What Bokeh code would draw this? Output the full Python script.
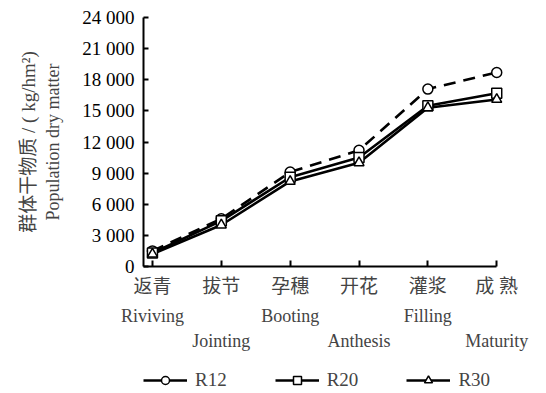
from bokeh.plotting import figure
from bokeh.models import (Range1d, FixedTicker, LinearAxis, Title, Legend, LegendItem,
                          ColumnDataSource)
from bokeh.layouts import column
from bokeh.embed import file_html
from bokeh.resources import INLINE

stages_cn = ["返青", "拔节", "孕穗", "开花", "灌浆", "成 熟"]
stages_en = ["Riviving", "Jointing", "Booting", "Anthesis", "Filling", "Maturity"]
r12 = [1500, 4600, 9100, 11200, 17100, 18700]
r20 = [1300, 4400, 8600, 10500, 15500, 16700]
r30 = [1200, 4000, 8200, 10000, 15300, 16100]
y_ticks = [0, 3000, 6000, 9000, 12000, 15000, 18000, 21000, 24000]
y_tick_labels = ["0", "3 000", "6 000", "9 000", "12 000", "15 000", "18 000", "21 000", "24 000"]
series_names = ["R12", "R20", "R30"]

SERIF = "Liberation Serif"
CJK = "Liberation Serif, Noto Sans CJK SC"

xs = list(range(len(stages_cn)))

p = figure(width=546, height=353, output_backend="svg", toolbar_location=None,
           x_range=Range1d(-0.13, 5.2), y_range=Range1d(0, 24000),
           min_border_left=143, min_border_right=36, min_border_top=17,
           min_border_bottom=0, x_axis_type=None)
p.outline_line_color = None
p.xgrid.visible = False
p.ygrid.visible = False
p.background_fill_color = "white"
p.border_fill_color = "white"

# y axis
ya = p.yaxis[0]
ya.ticker = FixedTicker(ticks=y_ticks)
ya.major_label_overrides = {t: l for t, l in zip(y_ticks, y_tick_labels)}
ya.major_label_text_font = SERIF
ya.major_label_text_font_size = "19px"
ya.major_label_text_color = "black"
ya.major_tick_in = 5
ya.major_tick_out = 0
ya.minor_tick_in = 0
ya.minor_tick_out = 0
ya.major_tick_line_width = 2
ya.axis_line_width = 2
ya.major_label_standoff = 9
ya.axis_label = "Population dry matter"
ya.axis_label_text_font = SERIF
ya.axis_label_text_font_style = "normal"
ya.axis_label_text_font_size = "18px"
ya.axis_label_standoff = 16

p.add_layout(Title(text="群体干物质 / ( kg/hm²)", align="center", text_font=CJK,
                   text_font_size="19px", text_font_style="normal", standoff=4), "left")

# x axes
ax_main = LinearAxis(ticker=FixedTicker(ticks=xs), bounds=(-0.13, 5.0),
                     major_label_overrides={i: s for i, s in zip(xs, stages_cn)})
ax_main.major_label_text_font = CJK
ax_main.major_label_text_font_size = "19px"
ax_main.major_tick_in = 6
ax_main.major_tick_out = 0
ax_main.minor_tick_in = 0
ax_main.minor_tick_out = 0
ax_main.major_tick_line_width = 2
ax_main.axis_line_width = 2
ax_main.major_label_standoff = 9
p.add_layout(ax_main, "below")

even = [i for i in xs if i % 2 == 0]
odd = [i for i in xs if i % 2 == 1]
for idx, so in ((even, 6), (odd, 2)):
    ax = LinearAxis(ticker=FixedTicker(ticks=idx),
                    major_label_overrides={i: stages_en[i] for i in idx})
    ax.axis_line_color = None
    ax.major_tick_line_color = None
    ax.minor_tick_line_color = None
    ax.major_tick_out = 0
    ax.major_tick_in = 0
    ax.major_label_standoff = so
    ax.major_label_text_font = SERIF
    ax.major_label_text_font_size = "18px"
    p.add_layout(ax, "below")

# data
styles = [(r12, "circle", "12 8"), (r20, "square", "solid"), (r30, "triangle", "solid")]
for (vals, marker, dash), name in zip(styles, series_names):
    src = ColumnDataSource(dict(x=xs, y=vals))
    p.line("x", "y", source=src, line_color="black", line_width=2.6, line_dash=dash)
for (vals, marker, dash), name in zip(styles, series_names):
    src = ColumnDataSource(dict(x=xs, y=vals))
    p.scatter("x", "y", source=src, marker=marker, size=10, fill_color="white",
              line_color="black", line_width=1.5)

# legend strip (swatch renderers sit outside the visible range)
lf = figure(width=546, height=40, output_backend="svg", toolbar_location=None,
            x_range=Range1d(0, 1), y_range=Range1d(0, 1),
            min_border_left=0, min_border_right=0, min_border_top=0, min_border_bottom=0,
            x_axis_type=None, y_axis_type=None)
lf.outline_line_color = None
lf.xgrid.visible = False
lf.ygrid.visible = False
legend_items = []
for (vals, marker, dash), name in zip(styles, series_names):
    hidden = ColumnDataSource(dict(x=[-5, -4], y=[-5, -5]))
    lr = lf.line("x", "y", source=hidden, line_color="black", line_width=2.6)
    mr = lf.scatter("x", "y", source=hidden, marker=marker, size=9, fill_color="white",
                    line_color="black", line_width=1.5)
    legend_items.append(LegendItem(label=name, renderers=[lr, mr]))
legend = Legend(items=legend_items, orientation="horizontal", location=(0, 2),
                label_text_font=SERIF, label_text_font_size="19px",
                glyph_width=44, label_standoff=8, spacing=48,
                border_line_color=None, background_fill_alpha=0, padding=2, margin=0)
lf.add_layout(legend, "center")

layout = column(p, lf, spacing=0)
open("out.html", "w").write(file_html(layout, INLINE))
